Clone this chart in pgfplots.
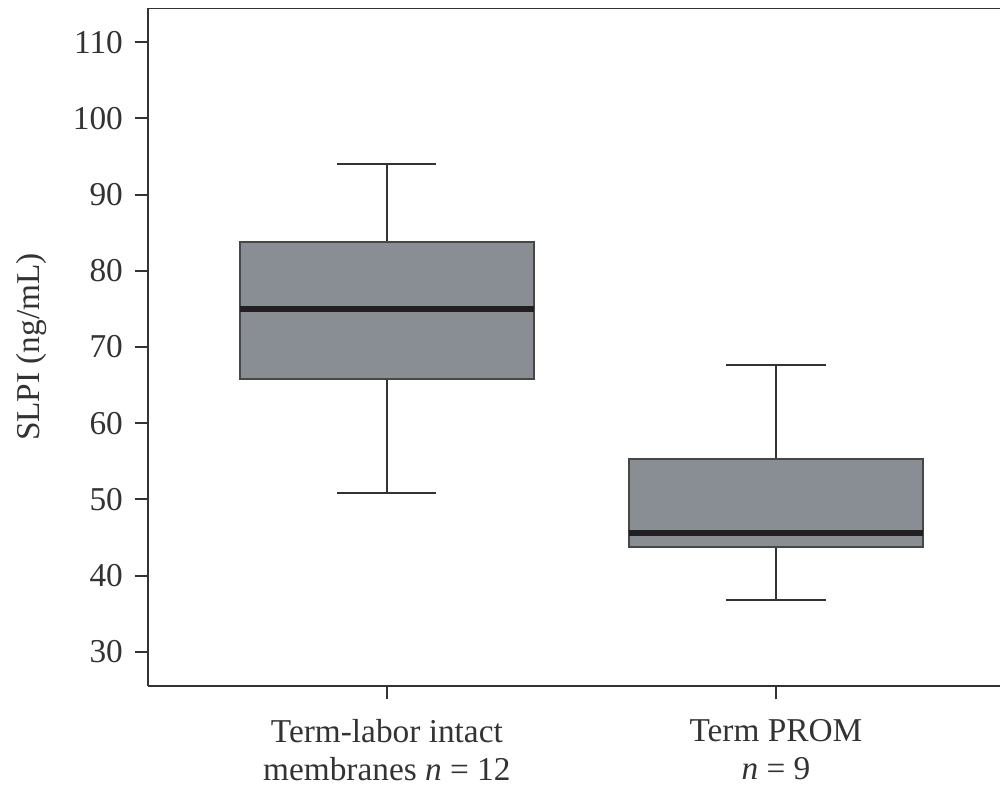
\documentclass[border=0pt]{standalone}
\usepackage{pgfplots}
\pgfplotsset{compat=1.18}
\usepackage{fontspec}
\setmainfont{Liberation Serif}

\definecolor{boxfill}{HTML}{898E94}
\definecolor{boxedge}{HTML}{474747}
\definecolor{axisgray}{HTML}{333333}
\definecolor{mediancol}{HTML}{231F20}

% five-number summaries: lower whisker, Q1, median, Q3, upper whisker
% Term-labor intact membranes (x = 1): 50.8, 65.8, 75.0, 83.8, 94.0
% Term PROM (x = 2):                   36.8, 43.7, 45.6, 55.3, 67.7
% box half-width 0.378, whisker cap half-width 0.1275

\begin{document}
\begin{tikzpicture}
\begin{axis}[
    scale only axis,
    width=255.6pt, height=203.4pt,
    at={(0,0)}, anchor=south west,
    xmin=0.386, xmax=2.576,
    ymin=25.5, ymax=114.5,
    axis x line*=bottom,
    axis y line*=left,
    axis line style={axisgray, line width=0.6pt},
    xtick={1,2},
    xticklabels={{Term-labor intact\\membranes \textit{n} = 12},{Term PROM\\\textit{n} = 9}},
    xticklabel style={align=center, font=\fontsize{10}{11.5}\selectfont, text=axisgray, yshift=-2.5pt},
    ytick={30,40,...,110},
    yticklabel style={font=\fontsize{10}{12}\selectfont, text=axisgray},
    /pgf/number format/assume math mode=true,
    tick style={axisgray, line width=0.6pt},
    tick align=outside,
    major tick length=4pt,
    ylabel={SLPI (ng/mL)},
    ylabel style={font=\fontsize{10}{12}\selectfont, text=axisgray, yshift=1pt},
    whisker/.style={axisgray, line width=0.6pt, mark=none},
    box/.style={draw=boxedge, fill=boxfill, line width=0.6pt, mark=none},
    median/.style={mediancol, line width=1.6pt, mark=none},
]
% ---- Term-labor intact membranes ----
\addplot[whisker] coordinates {(1,83.8) (1,94.0)};
\addplot[whisker] coordinates {(0.8725,94.0) (1.1275,94.0)};
\addplot[whisker] coordinates {(1,65.8) (1,50.8)};
\addplot[whisker] coordinates {(0.8725,50.8) (1.1275,50.8)};
\addplot[box] coordinates {(0.622,65.8) (1.378,65.8) (1.378,83.8) (0.622,83.8)} -- cycle;
\addplot[median] coordinates {(0.622,75.0) (1.378,75.0)};
% ---- Term PROM ----
\addplot[whisker] coordinates {(2,55.3) (2,67.7)};
\addplot[whisker] coordinates {(1.8725,67.7) (2.1275,67.7)};
\addplot[whisker] coordinates {(2,43.7) (2,36.8)};
\addplot[whisker] coordinates {(1.8725,36.8) (2.1275,36.8)};
\addplot[box] coordinates {(1.622,43.7) (2.378,43.7) (2.378,55.3) (1.622,55.3)} -- cycle;
\addplot[median] coordinates {(1.622,45.6) (2.378,45.6)};
% top frame line
\draw[axisgray, line width=0.6pt] (rel axis cs:0,1) -- (rel axis cs:1,1);
\end{axis}
\pgfresetboundingbox
\path (-44.4pt,-30.6pt) rectangle (255.6pt,205.8pt);
\end{tikzpicture}
\end{document}
